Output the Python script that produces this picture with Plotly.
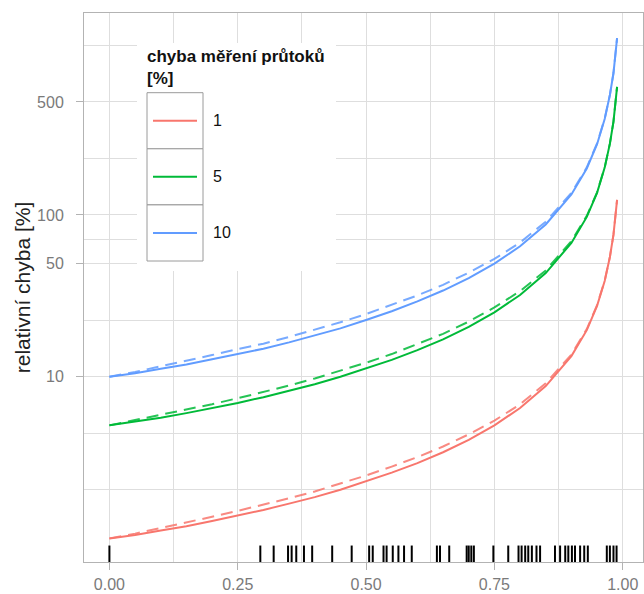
import math
import plotly.graph_objects as go

# ---------------- data ----------------
x_vals = [0, 0.05, 0.1, 0.15, 0.2, 0.25, 0.3, 0.35, 0.4, 0.45, 0.5, 0.55, 0.6,
          0.65, 0.7, 0.75, 0.8, 0.85, 0.9, 0.93, 0.95, 0.965, 0.975, 0.982, 0.989]

err1_solid = [1.00, 1.05, 1.12, 1.19, 1.28, 1.38, 1.50, 1.64, 1.80, 2.00, 2.25, 2.55, 2.92,
              3.41, 4.07, 5.00, 6.40, 8.75, 13.4, 19.4, 27.4, 39.2, 55.0, 75.5, 124]
err1_dashed = [1.00, 1.07, 1.16, 1.25, 1.36, 1.48, 1.61, 1.77, 1.95, 2.18, 2.45, 2.78, 3.18,
               3.70, 4.40, 5.35, 6.75, 9.10, 13.7, 19.7, 27.7, 39.4, 55.0, 75.5, 124]

err5_solid = [5.00, 5.27, 5.58, 5.95, 6.38, 6.88, 7.47, 8.16, 8.99, 9.98, 11.2, 12.7, 14.6,
              17.0, 20.3, 25.0, 32.0, 43.7, 67.2, 97.3, 137, 197, 276, 378, 620]
err5_dashed = [5.00, 5.38, 5.78, 6.25, 6.76, 7.36, 8.03, 8.81, 9.75, 10.9, 12.2, 13.8, 15.9,
               18.4, 21.9, 26.8, 33.8, 45.4, 68.9, 98.8, 138, 198, 276, 378, 620]

err10_solid = [10.0, 10.5, 11.2, 11.9, 12.8, 13.8, 14.9, 16.3, 18.0, 19.9, 22.4, 25.4, 29.2,
               34.1, 40.7, 50.0, 64.0, 87.4, 134, 194, 274, 394, 552, 755, 1240]
err10_dashed = [10.0, 10.7, 11.6, 12.5, 13.6, 14.8, 16.0, 17.6, 19.5, 21.7, 24.4, 27.7, 31.8,
                37.0, 44.0, 53.5, 67.5, 90.9, 137, 197, 277, 396, 552, 755, 1240]

rug_x = [0, 0.294, 0.320, 0.348, 0.355, 0.364, 0.379, 0.395, 0.434, 0.472, 0.506, 0.513,
         0.534, 0.540, 0.552, 0.563, 0.574, 0.589, 0.638, 0.644, 0.662, 0.696, 0.700, 0.705,
         0.710, 0.748, 0.777, 0.797, 0.803, 0.810, 0.816, 0.823, 0.832, 0.839, 0.868, 0.878,
         0.888, 0.894, 0.901, 0.907, 0.917, 0.925, 0.932, 0.969, 0.975, 0.982, 0.988]

series_labels = ["1", "5", "10"]
legend_title = ["chyba měření průtoků", "[%]"]
y_title = "relativní chyba [%]"
x_ticks = [0, 0.25, 0.5, 0.75, 1.0]
x_ticktext = ["0.00", "0.25", "0.50", "0.75", "1.00"]
y_ticks = [10, 50, 100, 500]
y_ticktext = ["10", "50", "100", "500"]

# ---------------- styling ----------------
colors = ["#F8766D", "#00BA38", "#619CFF"]
FONT = "Liberation Sans, Arial, Helvetica, sans-serif"
W, H = 644, 594
ML, MR, MT, MB = 84, 1, 13, 32
PW, PH = W - ML - MR, H - MT - MB


def px(xp):
    return (xp - ML) / PW


def py(yp):
    return (MT + PH - yp) / PH


solids = [err1_solid, err5_solid, err10_solid]
dashes = [err1_dashed, err5_dashed, err10_dashed]

fig = go.Figure()
for lab, col, ys, yd in zip(series_labels, colors, solids, dashes):
    fig.add_trace(go.Scatter(x=x_vals, y=yd, mode="lines", name=lab + " (dashed)",
                             line=dict(color=col, width=2, dash="12px,7px"),
                             opacity=0.85, showlegend=False))
    fig.add_trace(go.Scatter(x=x_vals, y=ys, mode="lines", name=lab,
                             line=dict(color=col, width=2), showlegend=False))

# rug on an overlaying linear axis (0..1 of panel height)
rx, ry = [], []
for r in rug_x:
    rx += [r, r, None]
    ry += [0, 0.03, None]
fig.add_trace(go.Scatter(x=rx, y=ry, yaxis="y2", mode="lines",
                         line=dict(color="black", width=2), showlegend=False,
                         hoverinfo="skip"))

# ggplot-like minor breaks in log space
lb = [math.log10(v) for v in y_ticks]
ext = [lb[0] - (lb[1] - lb[0])] + lb + [lb[-1] + (lb[1] - lb[0])]
y_minor = []
for a, b in zip(ext[:-1], ext[1:]):
    y_minor += [10 ** a, 10 ** ((a + b) / 2)]
y_minor = [v for v in y_minor if all(abs(math.log10(v) - l) > 1e-6 for l in lb)]
x_minor = [(a + b) / 2 for a, b in zip(x_ticks[:-1], x_ticks[1:])]

grid = "#DEDEDE"
border = "#B3B3B3"
tickfont = dict(family=FONT, size=16, color="#7A7A7A")

fig.update_layout(
    width=W, height=H,
    margin=dict(l=ML, r=MR, t=MT, b=MB, autoexpand=False),
    paper_bgcolor="white", plot_bgcolor="white",
    font=dict(family=FONT),
    showlegend=False,
    xaxis=dict(range=[-0.0495, 1.0395], tickvals=x_ticks, ticktext=x_ticktext,
               automargin=False,
               showgrid=True, gridcolor=grid, gridwidth=1, zeroline=False,
               showline=True, linecolor=border, linewidth=1, mirror=True,
               ticks="outside", ticklen=7, tickcolor=border, tickwidth=1,
               tickfont=tickfont, ticklabelstandoff=1,
               minor=dict(tickmode="array", tickvals=x_minor, showgrid=True,
                          gridcolor=grid, gridwidth=0.5, ticks="")),
    yaxis=dict(type="log", range=[-0.146, 3.249], tickvals=y_ticks, ticktext=y_ticktext,
               automargin=False,
               showgrid=True, gridcolor=grid, gridwidth=1, zeroline=False,
               showline=True, linecolor=border, linewidth=1, mirror=True,
               ticks="outside", ticklen=7, tickcolor=border, tickwidth=1,
               tickfont=tickfont, ticklabelstandoff=9,
               title=dict(text=y_title, font=dict(family=FONT, size=21, color="#222222"),
                          standoff=0),
               minor=dict(tickmode="array", tickvals=y_minor, showgrid=True,
                          gridcolor=grid, gridwidth=0.5, ticks="")),
    yaxis2=dict(range=[0, 1], overlaying="y", visible=False, showgrid=False,
                fixedrange=True, automargin=False),
)

# ---------------- legend (ggplot-style keys drawn by hand) ----------------
shapes = [dict(type="rect", xref="paper", yref="paper", layer="above",
               x0=px(137), x1=px(336), y0=py(271), y1=py(43),
               fillcolor="white", line=dict(width=0))]
row_top, row_h = 92.7, 56.1
annotations = []
for i, (lab, col) in enumerate(zip(series_labels, colors)):
    t = row_top + i * row_h
    c = t + row_h / 2
    shapes.append(dict(type="rect", xref="paper", yref="paper", layer="above",
                       x0=px(147), x1=px(203), y0=py(t + row_h), y1=py(t),
                       fillcolor="white", line=dict(color="#9A9A9A", width=1)))
    shapes.append(dict(type="line", xref="paper", yref="paper", layer="above",
                       x0=px(153), x1=px(197), y0=py(c), y1=py(c),
                       line=dict(color=col, width=2)))
    annotations.append(dict(text=lab, xref="paper", yref="paper", x=px(211), y=py(c),
                            xanchor="left", yanchor="middle", showarrow=False,
                            font=dict(family=FONT, size=16, color="#111111")))
annotations.append(dict(text="<b>" + "<br>".join(legend_title) + "</b>",
                        xref="paper", yref="paper", x=px(145), y=py(67),
                        xanchor="left", yanchor="middle", align="left",
                        showarrow=False,
                        font=dict(family=FONT, size=17, color="#111111")))

fig.update_layout(shapes=shapes, annotations=annotations)
fig.write_html("out.html",
               config={"displayModeBar": False},
               post_script="document.body.style.margin='0';"
                           "document.body.style.overflow='hidden';")
